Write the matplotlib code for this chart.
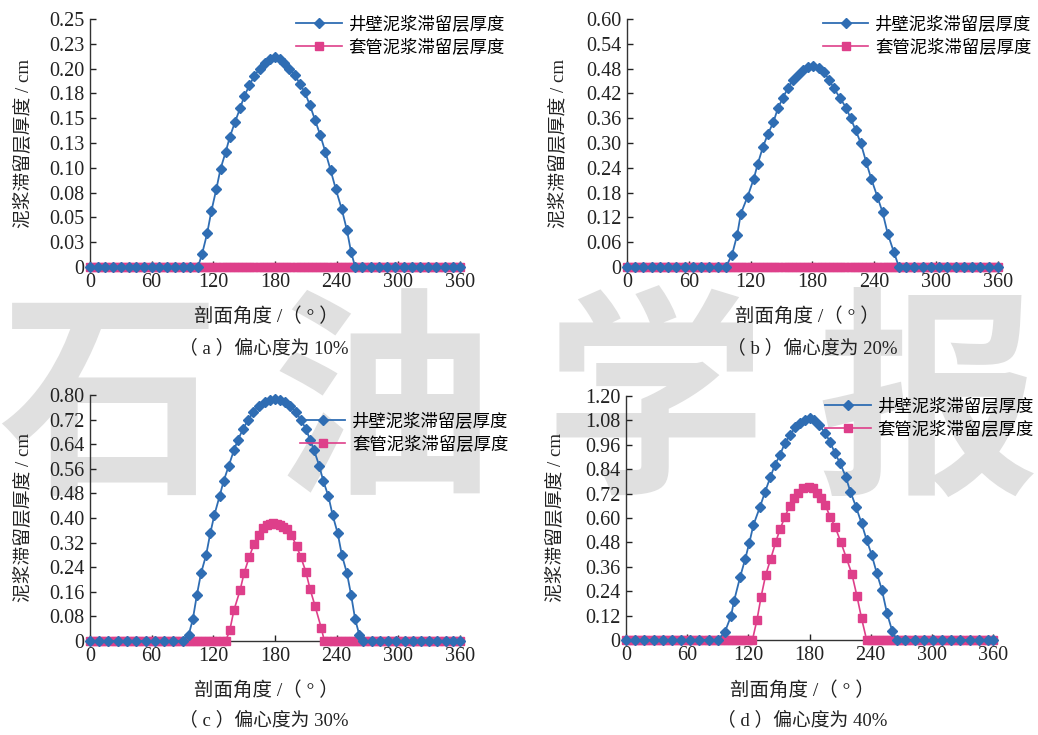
import matplotlib
matplotlib.use("Agg")
import matplotlib.pyplot as plt
import numpy as np

plt.rcParams['font.family'] = ['Liberation Serif', 'Noto Sans CJK SC', 'DejaVu Sans']
plt.rcParams['axes.unicode_minus'] = False

blue = '#2F6DB3'
pink = '#DE3F8A'

# (a) eccentricity 10%
wall_a_x = [0, 7.5, 15, 22.5, 30, 37.5, 45, 52.5, 60, 67.5, 75, 82.5, 90, 97.5, 105,
            109, 114, 118, 123, 127, 132, 136, 141, 146, 150, 155, 160, 165, 170, 175,
            180, 185, 189, 194, 199, 204, 209, 214, 219, 224, 229, 234, 239, 245, 250,
            254, 258, 265, 273, 281, 289, 297, 305, 313, 321, 329, 337, 345, 353, 360]
wall_a_y = [0] * 15 + [0.013, 0.034, 0.056, 0.079, 0.099, 0.116, 0.131, 0.146, 0.160, 0.172,
                       0.183, 0.193, 0.200, 0.206, 0.210, 0.212, 0.210, 0.206, 0.200, 0.194,
                       0.185, 0.176, 0.163, 0.148, 0.133, 0.116, 0.098, 0.079, 0.058, 0.037,
                       0.015, 0] + [0] * 13
casing_a_x = np.arange(0, 361, 4)
casing_a_y = np.zeros(len(casing_a_x))

# (b) eccentricity 20%
wall_b_x = [0, 8, 16, 24, 32, 40, 48, 56, 64, 72, 80, 88, 96,
            102, 107, 110.5, 117, 123, 127, 132, 137, 142, 146.5, 151, 156, 161, 166, 171,
            176, 181, 186, 191, 196, 201, 207, 213, 217, 222, 227, 232, 237, 243, 248,
            253, 259, 264, 271, 279, 287, 295, 303, 311, 319, 327, 335, 343, 351, 360]
wall_b_y = [0] * 13 + [0.030, 0.078, 0.129, 0.170, 0.213, 0.250, 0.291, 0.323, 0.350, 0.384,
                       0.408, 0.432, 0.453, 0.465, 0.477, 0.485, 0.487, 0.481, 0.473, 0.453,
                       0.432, 0.408, 0.384, 0.360, 0.331, 0.299, 0.255, 0.214, 0.170, 0.133,
                       0.081, 0.036, 0] + [0] * 12
casing_b_x = np.arange(0, 361, 4)
casing_b_y = np.zeros(len(casing_b_x))

# (c) eccentricity 30%
wall_c_x = [0, 9, 18, 27, 36, 45, 54, 63, 72, 81, 90,
            96, 100, 104, 108, 113, 117, 121, 126, 130, 135, 140, 144, 149, 154, 159, 164,
            170, 175, 180, 185, 190, 195, 200, 205, 210, 214, 218, 223, 227, 232, 236,
            241, 245, 250, 254, 258, 262, 266, 274, 282, 290, 298, 306, 314, 322, 330,
            338, 346, 353, 360]
wall_c_y = [0] * 11 + [0.02, 0.07, 0.15, 0.22, 0.28, 0.35, 0.41, 0.47, 0.52, 0.57, 0.62,
                       0.655, 0.69, 0.72, 0.745, 0.765, 0.778, 0.785, 0.787, 0.785, 0.778,
                       0.765, 0.745, 0.72, 0.69, 0.655, 0.62, 0.57, 0.52, 0.47, 0.41, 0.35,
                       0.28, 0.22, 0.15, 0.07, 0.02, 0] + [0] * 12
casing_c_x = [0, 4, 8, 12, 16, 20, 24, 28, 32, 36, 40, 44, 48, 52, 56, 60, 64, 68, 72, 76,
              80, 84, 88, 92, 96, 100, 104, 108, 112, 116, 120, 124, 128, 132,
              136, 140, 146, 150, 155, 159.5, 164, 168, 172, 175, 178, 181.5, 185, 188,
              192, 196, 201, 205, 210, 214, 219, 225,
              228, 232, 236, 240, 244, 248, 252, 256, 260, 264, 268, 272, 276, 280, 284,
              288, 292, 296, 300, 304, 308, 312, 316, 320, 324, 328, 332, 336, 340, 344,
              348, 352, 356, 360]
casing_c_y = [0] * 34 + [0.035, 0.100, 0.165, 0.222, 0.274, 0.315, 0.344, 0.366, 0.377,
                         0.382, 0.384, 0.382, 0.377, 0.370, 0.363, 0.344, 0.308, 0.274,
                         0.225, 0.170, 0.113, 0.042] + [0] * 34

# (d) eccentricity 40%
wall_d_x = [0, 9, 18, 27, 36, 45, 54, 63, 72, 81, 90,
            97, 103, 106, 112, 117, 121, 125, 131.5, 136.5, 141.5, 146, 151, 156, 161,
            166, 171, 176, 180, 184.5, 189.5, 195.5, 200, 205, 210, 215.5, 220, 225.5,
            231, 236, 241, 246, 251, 256, 261, 265.5, 274, 283, 292, 301, 310, 319, 328,
            337, 346, 355, 360]
wall_d_y = [0] * 11 + [0.04, 0.118, 0.193, 0.311, 0.40, 0.479, 0.566, 0.656, 0.73, 0.80,
                       0.86, 0.91, 0.97, 1.008, 1.046, 1.066, 1.082, 1.090, 1.082, 1.057,
                       1.016, 0.975, 0.918, 0.869, 0.803, 0.73, 0.656, 0.574, 0.492, 0.418,
                       0.328, 0.246, 0.131, 0.046, 0] + [0] * 11
casing_d_x = [0, 4, 8, 12, 16, 20, 24, 28, 32, 36, 40, 44, 48, 52, 56, 60, 64, 68, 72, 76,
              80, 84, 88, 92, 96, 100, 104, 108, 112, 116, 120, 124,
              128.5, 132.5, 137, 142, 147, 151, 156, 160.5, 165, 169, 174, 179, 183,
              187, 191.5, 195.5, 200, 205, 210.5, 216, 221.5, 226.5, 231, 236,
              240, 244, 248, 252, 256, 260, 264, 268, 272, 276, 280, 284, 288, 292, 296,
              300, 304, 308, 312, 316, 320, 324, 328, 332, 336, 340, 344, 348, 352, 356, 360]
casing_d_y = [0] * 32 + [0.10, 0.213, 0.32, 0.40, 0.484, 0.544, 0.607, 0.66, 0.697, 0.725,
                         0.746, 0.754, 0.746, 0.725, 0.697, 0.664, 0.607, 0.557, 0.484,
                         0.405, 0.325, 0.216, 0.107, 0] + [0] * 31

x_ticks = [0, 60, 120, 180, 240, 300, 360]
y_ticks_a = ['0', '0.03', '0.05', '0.08', '0.10', '0.13', '0.15', '0.18', '0.20', '0.23', '0.25']
y_ticks_b = ['0', '0.06', '0.12', '0.18', '0.24', '0.30', '0.36', '0.42', '0.48', '0.54', '0.60']
y_ticks_c = ['0', '0.08', '0.16', '0.24', '0.32', '0.40', '0.48', '0.56', '0.64', '0.72', '0.80']
y_ticks_d = ['0', '0.12', '0.24', '0.36', '0.48', '0.60', '0.72', '0.84', '0.96', '1.08', '1.20']

panels = [
    # rect, wall, casing, ymax, labels, caption, legend anchor, ylabel x, xlabel pos, caption pos
    ([0.0867, 0.6367, 0.3565, 0.3374], wall_a_x, wall_a_y, casing_a_x, casing_a_y, 0.25,
     y_ticks_a, '（ a ）偏心度为 10%', (1.14, 1.04), -0.155, (0.477, -0.198), (0.47, -0.327)),
    ([0.6040, 0.6367, 0.3574, 0.3374], wall_b_x, wall_b_y, casing_b_x, casing_b_y, 0.60,
     y_ticks_b, '（ b ）偏心度为 20%', (1.11, 1.04), -0.16, (0.485, -0.198), (0.50, -0.327)),
    ([0.0867, 0.1279, 0.3565, 0.3347], wall_c_x, wall_c_y, casing_c_x, casing_c_y, 0.80,
     y_ticks_c, '（ c ）偏心度为 30%', (1.15, 0.955), -0.155, (0.477, -0.199), (0.47, -0.321)),
    ([0.6031, 0.1293, 0.3536, 0.3320], wall_d_x, wall_d_y, casing_d_x, casing_d_y, 1.20,
     y_ticks_d, '（ d ）偏心度为 40%', (1.13, 1.02), -0.165, (0.48, -0.205), (0.48, -0.328)),
]

fig = plt.figure(figsize=(10.38, 7.35), dpi=100)

# background watermark of the journal
fig.text(0.5, 0.44, '石 油 学 报', ha='center', va='center', fontsize=160,
         family=['Noto Sans CJK SC'], fontweight='bold', color='#e0e0e0', zorder=-5)

for rect, wx, wy, cx, cy, ymax, ylabs, caption, leg_anchor, ylab_x, xlab_pos, cap_pos in panels:
    ax = fig.add_axes(rect)
    ax.set_facecolor('none')
    ax.plot(cx, cy, color=pink, lw=1.2, marker='s', ms=6, mec=pink, mfc=pink,
            label='套管泥浆滞留层厚度', clip_on=False, zorder=3)
    ax.plot(wx, wy, color=blue, lw=1.3, marker='D', ms=4.8, mec=blue, mfc=blue,
            label='井壁泥浆滞留层厚度', clip_on=False, zorder=4)
    ax.set_xlim(0, 360)
    ax.set_ylim(0, ymax)
    ax.set_xticks(x_ticks)
    ax.set_xticklabels([str(t) for t in x_ticks])
    ax.set_yticks(np.linspace(0, ymax, 11))
    ax.set_yticklabels(ylabs)
    for s in ['top', 'right']:
        ax.spines[s].set_visible(False)
    for s in ['left', 'bottom']:
        ax.spines[s].set_linewidth(1.0)
        ax.spines[s].set_color('#333333')
    ax.tick_params(direction='in', length=4, width=1, labelsize=14.5, pad=4, colors='#222222')
    ax.set_ylabel('泥浆滞留层厚度 / cm', fontsize=13.5, color='#222222')
    ax.yaxis.set_label_coords(ylab_x, 0.5)
    ax.set_xlabel('剖面角度 /（ ° ）', fontsize=14, color='#222222')
    ax.xaxis.label.set_va('center')
    ax.xaxis.set_label_coords(*xlab_pos)
    ax.text(cap_pos[0], cap_pos[1], caption, transform=ax.transAxes, ha='center', va='center',
            fontsize=13.5, color='#222222')
    h, l = ax.get_legend_handles_labels()
    ax.legend(h[::-1], l[::-1], loc='upper right', bbox_to_anchor=leg_anchor, frameon=False,
              fontsize=12.5, handlelength=2.6, handletextpad=0.4, labelspacing=0.35,
              borderaxespad=0.0)

fig.savefig('out.png', dpi=100)
